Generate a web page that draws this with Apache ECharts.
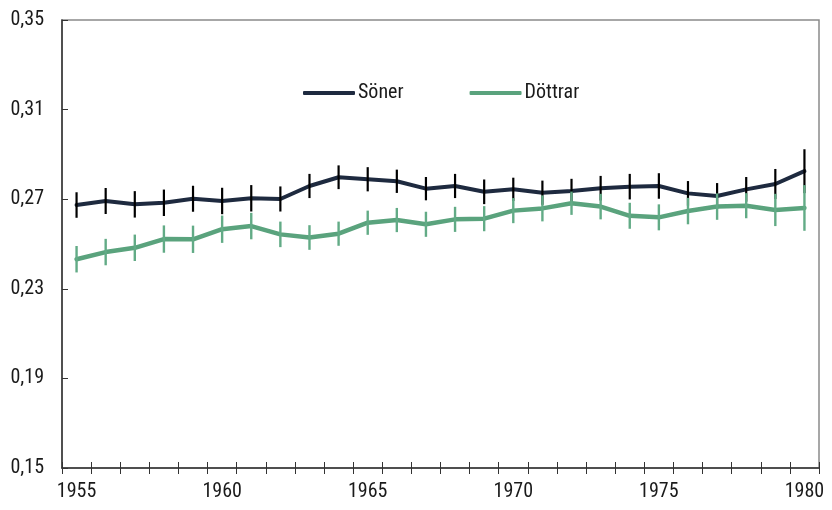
<!DOCTYPE html>
<html>
<head>
<meta charset="utf-8">
<script src="https://cdn.jsdelivr.net/npm/echarts@6/dist/echarts.min.js"></script>
<style>
  html, body { margin: 0; padding: 0; background: #ffffff; }
  #chart { width: 832px; height: 510px; }
</style>
</head>
<body>
<div id="chart"></div>
<script>
// Years on the horizontal axis
const years = ['1955','1956','1957','1958','1959','1960','1961','1962','1963','1964','1965','1966','1967',
               '1968','1969','1970','1971','1972','1973','1974','1975','1976','1977','1978','1979','1980'];

// Sons: estimate and half-width of the confidence interval
const sonerMean = [0.2674,0.2692,0.2677,0.2684,0.2702,0.2692,0.2704,0.2701,0.2759,0.2798,0.2789,0.2780,0.2747,
                   0.2759,0.2733,0.2744,0.2729,0.2737,0.2749,0.2756,0.2759,0.2726,0.2714,0.2744,0.2768,0.2825];
const sonerErr  = [0.0057,0.0058,0.0059,0.0059,0.0058,0.0059,0.0059,0.0056,0.0054,0.0053,0.0054,0.0052,0.0052,
                   0.0054,0.0055,0.0052,0.0054,0.0054,0.0055,0.0057,0.0057,0.0055,0.0058,0.0055,0.0067,0.0098];

// Daughters: estimate and half-width of the confidence interval
const dottrarMean = [0.2432,0.2464,0.2483,0.2522,0.2521,0.2566,0.2580,0.2543,0.2529,0.2546,0.2595,0.2607,0.2588,
                     0.2610,0.2613,0.2649,0.2659,0.2682,0.2667,0.2626,0.2619,0.2647,0.2667,0.2671,0.2652,0.2661];
const dottrarErr  = [0.0059,0.0059,0.0059,0.0061,0.0061,0.0061,0.0059,0.0057,0.0055,0.0054,0.0054,0.0054,0.0056,
                     0.0056,0.0056,0.0056,0.0058,0.0052,0.0057,0.0058,0.0058,0.0059,0.0059,0.0056,0.0072,0.0102];

// Y axis range and step
const yMin = 0.15, yMax = 0.35, yStep = 0.04;

const FONT = "'Roboto Condensed', 'DejaVu Sans Condensed', sans-serif";
const FONT_SIZE = 20;
const DARK = '#1e2a3f';
const GREEN = '#5aa37d';

function intervalData(mean, err) {
  return mean.map((m, i) => [i, m - err[i], m + err[i]]);
}

function errorBarRenderer(color, width) {
  return function (params, api) {
    const lo = api.coord([api.value(0), api.value(1)]);
    const hi = api.coord([api.value(0), api.value(2)]);
    return {
      type: 'line',
      shape: { x1: lo[0], y1: lo[1], x2: hi[0], y2: hi[1] },
      style: { stroke: color, lineWidth: width }
    };
  };
}

const chart = echarts.init(document.getElementById('chart'), null, { renderer: 'canvas' });

chart.setOption({
  animation: false,
  backgroundColor: '#ffffff',
  textStyle: { fontFamily: FONT },
  grid: {
    left: 62, right: 13, top: 20, bottom: 42,
    show: true, borderColor: '#8a8a8a', borderWidth: 1.5, backgroundColor: 'transparent'
  },
  legend: {
    left: 303, top: 83, padding: 0,
    itemWidth: 52, itemHeight: 4, itemGap: 66,
    icon: 'roundRect',
    textStyle: { fontFamily: FONT, fontSize: FONT_SIZE, color: '#1a1a1a', padding: [0, 0, 0, -2] },
    data: [
      { name: 'Söner', itemStyle: { color: DARK } },
      { name: 'Döttrar', itemStyle: { color: GREEN } }
    ]
  },
  xAxis: [
    {
      type: 'category', data: years, boundaryGap: true,
      axisLine: { lineStyle: { color: '#333333', width: 1.5 } },
      axisTick: { show: true, inside: false, length: 6, interval: 0, lineStyle: { color: '#333333', width: 1 } },
      axisLabel: { interval: 4, margin: 14, fontFamily: FONT, fontSize: FONT_SIZE, color: '#1a1a1a' },
      splitLine: { show: false }
    },
    {
      type: 'category', data: years, boundaryGap: true, position: 'bottom',
      axisLine: { show: false },
      axisTick: { show: true, inside: true, length: 6, interval: 0, lineStyle: { color: '#333333', width: 1 } },
      axisLabel: { show: false },
      splitLine: { show: false }
    }
  ],
  yAxis: {
    type: 'value', min: yMin, max: yMax, interval: yStep,
    axisLine: { show: true, lineStyle: { color: '#333333', width: 1.5 } },
    axisTick: { show: true, inside: true, length: 6, lineStyle: { color: '#333333', width: 1 } },
    axisLabel: {
      margin: 18, fontFamily: FONT, fontSize: FONT_SIZE, color: '#1a1a1a',
      formatter: v => v.toFixed(2).replace('.', ',')
    },
    splitLine: { show: false }
  },
  series: [
    {
      name: 'Söner', type: 'line', data: sonerMean, symbol: 'none', z: 2,
      lineStyle: { color: DARK, width: 4, join: 'round', cap: 'round' },
      itemStyle: { color: DARK }
    },
    {
      name: 'Söner intervall', type: 'custom', data: intervalData(sonerMean, sonerErr), z: 3,
      encode: { x: 0, y: [1, 2] },
      renderItem: errorBarRenderer('#000000', 2.2)
    },
    {
      name: 'Döttrar', type: 'line', data: dottrarMean, symbol: 'none', z: 4,
      lineStyle: { color: GREEN, width: 4.5, join: 'round', cap: 'round' },
      itemStyle: { color: GREEN }
    },
    {
      name: 'Döttrar intervall', type: 'custom', data: intervalData(dottrarMean, dottrarErr), z: 5,
      encode: { x: 0, y: [1, 2] },
      renderItem: errorBarRenderer('#62ab86', 2.4)
    }
  ]
});
</script>
</body>
</html>
